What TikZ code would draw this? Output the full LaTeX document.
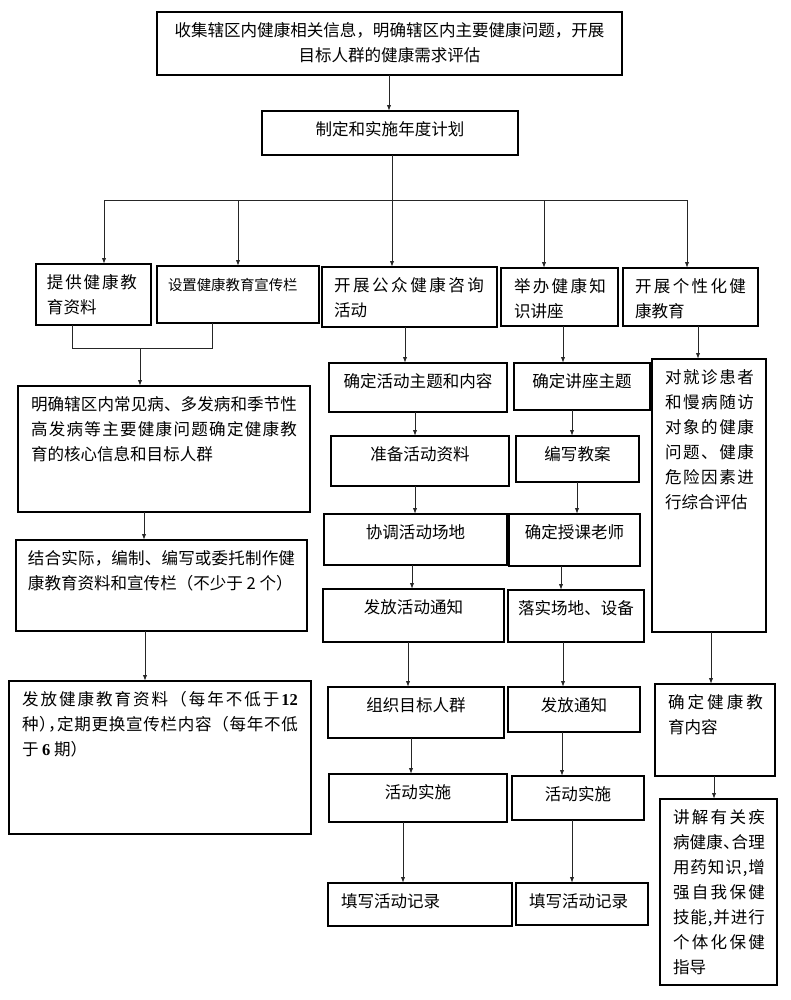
\documentclass[tikz,border=0pt]{standalone}
\usepackage{fontspec}
\setmainfont{Noto Sans CJK SC}
\newfontfamily\lat{Liberation Serif}
\usetikzlibrary{arrows.meta}
\newdimen\PX \PX=0.75pt
\newcommand{\fs}{\rule{0pt}{18.6pt}}
\makeatletter
\def\spr@endmark{\spr@end}
\def\spr@first#1{#1\spr@rest}
\def\spr@rest#1{\def\spr@tmp{#1}\ifx\spr@tmp\spr@endmark\else\hfil#1\expandafter\spr@rest\fi}
\newcommand\spreadline[2]{\makebox[#1][s]{\spr@first#2\spr@end}}
\makeatother
\newcommand{\B}[6]{%
  \pgfmathsetmacro{\bw}{(#4-#2)*0.75}%
  \pgfmathsetmacro{\bh}{(#5-#3)*0.75}%
  \node[bx] (#1) at (#2,#3) {\parbox[c][\bh pt][t]{\bw pt}{#6\par}};}
\tikzset{
  bx/.style={draw=black, line width=0.8pt, inner sep=0pt, outer sep=0pt, anchor=north west,
    font=\fontsize{12.4}{18.75}\selectfont},
  ln/.style={draw=black!85, line width=0.7pt},
  arr/.style={ln, -{Latex[length=4.5pt,width=3.2pt]}}
}
\begin{document}
\begin{tikzpicture}[x=0.75pt,y=-0.75pt]
\fill[white] (0,0) rectangle (790,1000);
\useasboundingbox (0,0) rectangle (790,1000);

\B{top}{157}{12}{622}{75}{\centering\fs 收集辖区内健康相关信息，明确辖区内主要健康问题，开展\\目标人群的健康需求评估}
\B{plan}{262}{111}{518}{155}{\centering\fs 制定和实施年度计划}

\B{a}{36}{264}{151}{325}{\leftskip=11\PX \fs\spreadline{90\PX}{提供健康教}\par 育资料}
\B{b}{157}{266}{319}{323}{\leftskip=11\PX \fontsize{10.8}{18.75}\selectfont\fs 设置健康教育宣传栏}
\B{c}{322}{267}{497}{327}{\leftskip=12\PX \fs\spreadline{150\PX}{开展公众健康咨询}\par 活动}
\B{d}{501}{268}{618}{326}{\leftskip=13\PX \fs\spreadline{92\PX}{举办健康知}\par 识讲座}
\B{e}{623}{268}{758}{326}{\leftskip=12\PX \fs\spreadline{111\PX}{开展个性化健}\par 康教育}

\B{f}{18}{386}{310}{512}{\leftskip=13\PX \fs\spreadline{266\PX}{明确辖区内常见病、多发病和季节性}\par\spreadline{266\PX}{高发病等主要健康问题确定健康教}\par 育的核心信息和目标人群}
\B{g}{16}{540}{307}{631}{\leftskip=12\PX \fs\spreadline{267\PX}{结合实际，编制、编写或委托制作健}\par 康教育资料和宣传栏（不少于 2 个）}
\B{h}{9}{681}{311}{834}{\leftskip=13\PX \fs\spreadline{276\PX}{发放健康教育资料（每年不低于{{\lat\bfseries 12}}}\par\spreadline{276\PX}{种{\makebox[0.5em][l]{）}}{\makebox[0.5em][l]{，}}定期更换宣传栏内容（每年不低}\par 于 {\lat\bfseries 6} 期）}

\B{c1}{329}{363}{507}{412}{\centering\fs 确定活动主题和内容}
\B{c2}{331}{436}{509}{486}{\centering\fs 准备活动资料}
\B{c3}{324}{514}{507}{565}{\centering\fs 协调活动场地}
\B{c4}{323}{589}{504}{642}{\centering\fs 发放活动通知}
\B{c5}{328}{687}{504}{738}{\centering\fs 组织目标人群}
\B{c6}{329}{774}{507}{822}{\centering\fs 活动实施}
\B{c7}{328}{883}{512}{926}{\leftskip=13\PX \fs 填写活动记录}

\B{d1}{514}{363}{650}{410}{\centering\fs 确定讲座主题}
\B{d2}{516}{436}{639}{482}{\centering\fs 编写教案}
\B{d3}{509}{514}{640}{566}{\centering\fs 确定授课老师}
\B{d4}{508}{590}{644}{642}{\centering\fs 落实场地、设备}
\B{d5}{508}{687}{640}{732}{\centering\fs 发放通知}
\B{d6}{512}{776}{644}{820}{\centering\fs 活动实施}
\B{d7}{516}{883}{648}{925}{\leftskip=13\PX \fs 填写活动记录}

\B{e1}{652}{359}{766}{632}{\leftskip=13\PX \fs\spreadline{89\PX}{对就诊患者}\par\spreadline{89\PX}{和慢病随访}\par\spreadline{89\PX}{对象的健康}\par\spreadline{89\PX}{问题、健康}\par\spreadline{89\PX}{危险因素进}\par 行综合评估}
\B{e2}{655}{684}{775}{776}{\leftskip=13\PX \fs\spreadline{95\PX}{确定健康教}\par 育内容}
\B{e3}{660}{799}{777}{985}{\leftskip=13\PX \fs\spreadline{92\PX}{讲解有关疾}\par\spreadline{92\PX}{病健康{\makebox[0.5em][l]{、}}合理}\par\spreadline{92\PX}{用药知识,增}\par\spreadline{92\PX}{强自我保健}\par\spreadline{92\PX}{技能,并进行}\par\spreadline{92\PX}{个体化保健}\par 指导}

% connectors
\coordinate (barL) at (104,200);
\coordinate (barB) at (238,200);
\coordinate (barC) at (392,200);
\coordinate (barD) at (544,200);
\coordinate (barR) at (687,200);
\coordinate (brL) at (72,348);
\coordinate (brR) at (212,348);
\coordinate (brM) at (140,348);

\draw[arr] (top.south -| 389,0) -- (plan.north -| 389,0);
\draw[ln] (barL) -- (barR);
\draw[arr] (plan.south -| barC) -- (c.north -| barC);
\draw[arr] (barL) -- (a.north -| barL);
\draw[arr] (barB) -- (b.north -| barB);
\draw[arr] (barD) -- (d.north -| barD);
\draw[arr] (barR) -- (e.north -| barR);

\draw[ln] (a.south -| brL) -- (brL) -- (brR) -- (b.south -| brR);
\draw[arr] (brM) -- (f.north -| brM);
\draw[arr] (f.south -| 144,0) -- (g.north -| 144,0);
\draw[arr] (g.south -| 145,0) -- (h.north -| 145,0);

\draw[arr] (c.south -| 405,0) -- (c1.north -| 405,0);
\draw[arr] (c1.south -| 415,0) -- (c2.north -| 415,0);
\draw[arr] (c2.south -| 415,0) -- (c3.north -| 415,0);
\draw[arr] (c3.south -| 412,0) -- (c4.north -| 412,0);
\draw[arr] (c4.south -| 408,0) -- (c5.north -| 408,0);
\draw[arr] (c5.south -| 411,0) -- (c6.north -| 411,0);
\draw[arr] (c6.south -| 403,0) -- (c7.north -| 403,0);

\draw[arr] (d.south -| 563,0) -- (d1.north -| 563,0);
\draw[arr] (d1.south -| 572,0) -- (d2.north -| 572,0);
\draw[arr] (d2.south -| 577,0) -- (d3.north -| 577,0);
\draw[arr] (d3.south -| 561,0) -- (d4.north -| 561,0);
\draw[arr] (d4.south -| 563,0) -- (d5.north -| 563,0);
\draw[arr] (d5.south -| 562,0) -- (d6.north -| 562,0);
\draw[arr] (d6.south -| 572,0) -- (d7.north -| 572,0);

\draw[arr] (e.south -| 698,0) -- (e1.north -| 698,0);
\draw[arr] (e1.south -| 711,0) -- (e2.north -| 711,0);
\draw[arr] (e2.south -| 714,0) -- (e3.north -| 714,0);
\end{tikzpicture}
\end{document}
